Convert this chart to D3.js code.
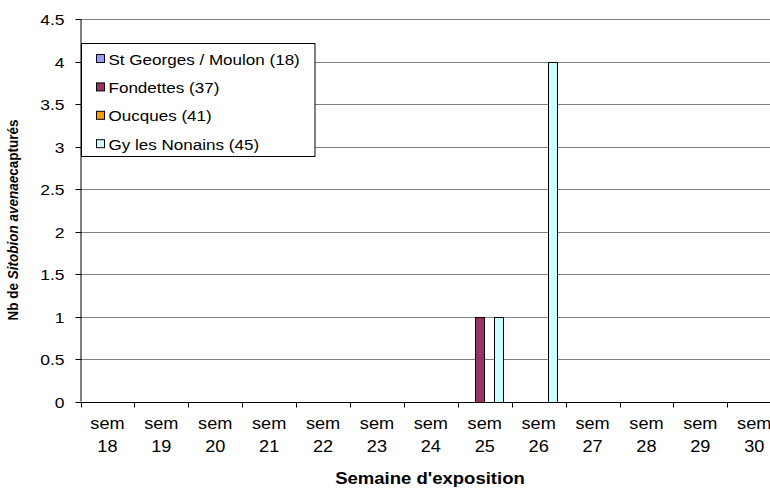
<!DOCTYPE html>
<html>
<head>
<meta charset="utf-8">
<script src="https://cdn.jsdelivr.net/npm/d3@7"></script>
<style>
html,body{margin:0;padding:0;background:#fff;overflow:hidden;}
svg{display:block;font-family:Arial,"Liberation Sans",sans-serif;}
</style>
</head>
<body>
<svg id="chart" width="770" height="489"></svg>
<script>
// ---- data ----
const categories = ["sem 18","sem 19","sem 20","sem 21","sem 22","sem 23","sem 24","sem 25","sem 26","sem 27","sem 28","sem 29","sem 30"];
const seriesNames = ["St Georges / Moulon (18)","Fondettes (37)","Oucques (41)","Gy les Nonains (45)"];
const seriesColors = ["#9999FF","#993366","#FF9900","#CCFFFF"];
const stGeorges = [0,0,0,0,0,0,0,0,0,0,0,0,0];
const fondettes = [0,0,0,0,0,0,0,1,0,0,0,0,0];
const oucques   = [0,0,0,0,0,0,0,0,0,0,0,0,0];
const gyNonains = [0,0,0,0,0,0,0,1,4,0,0,0,0];
const yTicks = [0,0.5,1,1.5,2,2.5,3,3.5,4,4.5];
const seriesValues = [stGeorges, fondettes, oucques, gyNonains];

// ---- layout ----
const svg = d3.select("#chart");
const pL = 80.5, pR = 781.2, pT = 19, pB = 401.5;

const x0 = d3.scaleBand().domain(categories).range([pL, pR]).padding(0);
const x1 = d3.scaleBand().domain(seriesNames).range([0, x0.bandwidth()]).paddingInner(0).paddingOuter(0.79);
const y = d3.scaleLinear().domain([0, 4.5]).range([pB, pT]);

// gridlines
svg.append("g").selectAll("line").data(yTicks.filter(d => d > 0)).join("line")
  .attr("x1", pL).attr("x2", pR)
  .attr("y1", d => Math.round(y(d)) + 0.5).attr("y2", d => Math.round(y(d)) + 0.5)
  .attr("stroke", "#808080").attr("stroke-width", 1);

// bars
const barData = [];
seriesNames.forEach((s, si) => {
  categories.forEach((c, ci) => {
    barData.push({s, c, v: seriesValues[si][ci], color: seriesColors[si]});
  });
});
svg.append("g").selectAll("rect").data(barData.filter(d => d.v > 0)).join("rect")
  .attr("x", d => Math.round(x0(d.c) + x1(d.s)) + 0.5)
  .attr("width", Math.round(x1.bandwidth()) - 1)
  .attr("y", d => Math.round(y(d.v)) + 0.5)
  .attr("height", d => Math.round(y(0)) - Math.round(y(d.v)))
  .attr("fill", d => d.color)
  .attr("stroke", "#000").attr("stroke-width", 1);

// y axis
const yAxis = svg.append("g").attr("transform", `translate(${pL},0)`)
  .call(d3.axisLeft(y).tickValues(yTicks).tickSize(5).tickFormat(d3.format("")));
yAxis.select(".domain").attr("d", `M0.5,${pT}V${pB}`).attr("stroke", "#000");
yAxis.selectAll(".tick").attr("transform", d => `translate(0,${Math.round(y(d)) + 0.5})`);
yAxis.selectAll(".tick line").attr("stroke", "#000").attr("x1", 0.5).attr("x2", -5);
yAxis.selectAll(".tick text").remove();
yAxis.selectAll(".tick").append("text")
  .attr("transform", "translate(-16,0) scale(1.25,1)")
  .attr("text-anchor", "end").attr("dy", "0.36em")
  .attr("fill", "#000").style("font-size", "14px")
  .text(d => String(d));

// x axis
const xAxis = svg.append("g").attr("transform", `translate(0,${Math.round(pB) + 0.5})`);
xAxis.append("line").attr("x1", pL).attr("x2", pR).attr("y1", 0).attr("y2", 0).attr("stroke", "#000");
const bounds = categories.map(c => x0(c)).concat([pR]);
xAxis.selectAll("line.tk").data(bounds).join("line").attr("class", "tk")
  .attr("x1", d => Math.round(d) + 0.5).attr("x2", d => Math.round(d) + 0.5)
  .attr("y1", 0).attr("y2", 5).attr("stroke", "#000");
const xl = xAxis.selectAll("g.lbl").data(categories).join("g").attr("class", "lbl")
  .attr("transform", d => `translate(${x0(d) + x0.bandwidth() / 2},0) scale(1.1,1)`);
xl.append("text").attr("text-anchor", "middle").attr("y", 27)
  .style("font-size", "16.5px").text(d => d.split(" ")[0]);
xl.append("text").attr("text-anchor", "middle").attr("y", 49.5)
  .style("font-size", "16.5px").text(d => d.split(" ")[1]);

// axis titles
svg.append("text")
  .attr("transform", "translate(430,484) scale(1.09,1)")
  .attr("text-anchor", "middle").style("font-size", "17px").style("font-weight", "bold")
  .text("Semaine d'exposition");

const yt = svg.append("text")
  .attr("transform", "translate(18,220) scale(1.15,1) rotate(-90)")
  .attr("text-anchor", "middle").style("font-size", "13.5px").style("font-weight", "bold");
yt.append("tspan").text("Nb de ");
yt.append("tspan").style("font-style", "italic").text("Sitobion avenae");
yt.append("tspan").text("capturés");

// legend
const lg = svg.append("g");
lg.append("rect").attr("x", 81.5).attr("y", 43.5).attr("width", 233.5).attr("height", 113)
  .attr("fill", "#fff").attr("stroke", "#000").attr("stroke-width", 1);
const items = lg.selectAll("g.it").data(seriesNames).join("g").attr("class", "it")
  .attr("transform", (d, i) => `translate(0,${59 + i * 28.4})`);
items.append("rect").attr("x", 96.5).attr("y", -4.5).attr("width", 8).attr("height", 8)
  .attr("fill", (d, i) => seriesColors[i]).attr("stroke", "#000");
items.append("text").attr("transform", "translate(108.5,0) scale(1.1,1)")
  .attr("dy", "0.36em").style("font-size", "15.5px").text(d => d);
</script>
</body>
</html>
